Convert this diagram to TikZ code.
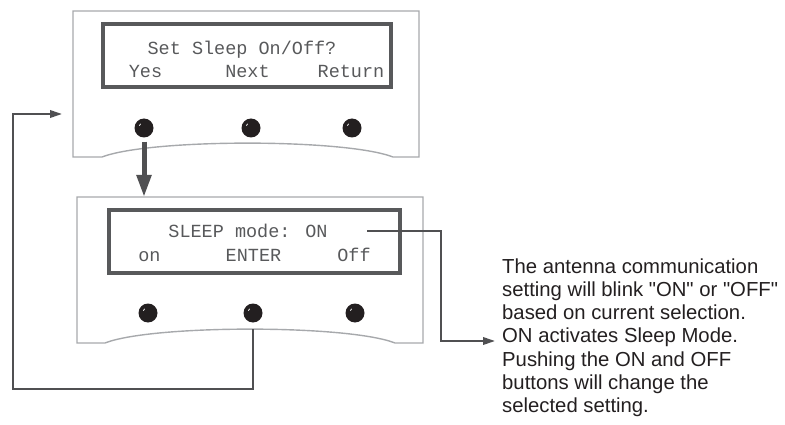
\documentclass[tikz,border=0pt]{standalone}
\usepackage{fontspec}
\setmainfont{Liberation Sans}[Ligatures=TeXOff]
\newfontfamily\lcdfont{Liberation Mono}
\usetikzlibrary{arrows.meta}
\definecolor{panelgray}{HTML}{A7A9AC}
\definecolor{lcdgray}{HTML}{58595B}
\definecolor{conngray}{HTML}{505052}
\definecolor{ink}{HTML}{231F20}
\begin{document}
\begin{tikzpicture}[x=1pt,y=-1pt,
  panel/.style={draw=panelgray, line width=1.4pt},
  lcdbox/.style={draw=lcdgray, line width=3.5pt, minimum height=63pt, inner sep=0},
  lcdtext/.style={font=\lcdfont\fontsize{18.5}{20}\selectfont, text=lcdgray, inner sep=0, anchor=base},
  button/.style={circle, fill=ink, minimum size=19pt, inner sep=0,
    path picture={\draw[white, line width=0.7pt, line cap=round]
      ([shift={(-4.5pt,2.5pt)}]path picture bounding box.center) -- ++(1pt,1.5pt);}},
  conn/.style={draw=conngray, line width=2pt},
  smalltip/.style={-{Triangle[length=12pt,width=7.5pt]}},
  bigarrow/.style={draw=conngray, line width=5pt, -{Triangle[length=22pt,width=14pt]}},
  desc/.style={font=\fontsize{20.3}{23.2}\selectfont, text=ink, align=left, inner sep=0}
]
\useasboundingbox (0,0) rectangle (785,425);

% panel 1
\draw[panel] (102,157) -- (73,157) -- (73,11) -- (419,11) -- (419,157) -- (393,157)
  .. controls (345,138.5) and (150,138.5) .. (102,157);
\node[lcdbox, minimum width=288pt] (d1) at (247,55.5) {};
\node[lcdtext] (t1) at (242,55) {Set Sleep On/Off?};
\node[lcdtext] (t2) at (145.5,77.7) {Yes};
\node[lcdtext] (t3) at (247.5,77.7) {Next};
\node[lcdtext] (t4) at (351,77.7) {Return};
\node[button] (b1) at (144,128) {};
\node[button] (b2) at (251,128) {};
\node[button] (b3) at (352,128) {};

% panel 2
\draw[panel] (105,343) -- (77,343) -- (77,197) -- (423,197) -- (423,343) -- (395,343)
  .. controls (348,324.5) and (152,324.5) .. (105,343);
\coordinate (p2top) at (144,197);
\node[lcdbox, minimum width=291pt] (d2) at (254.5,241.5) {};
\node[lcdtext] (t5) at (248,237.7) {SLEEP mode: ON};
\node[lcdtext] (t6) at (149.5,261.7) {on};
\node[lcdtext] (t7) at (253.5,261.7) {ENTER};
\node[lcdtext] (t8) at (354,261.7) {Off};
\node[button] (b4) at (148,313) {};
\node[button] (b5) at (253,313) {};
\node[button] (b6) at (355,313) {};

% description
\node[desc, anchor=north west] (desc) at (502,258.3) {The antenna communication\\
setting will blink "ON" or "OFF"\\
based on current selection.\\
ON activates Sleep Mode.\\
Pushing the ON and OFF\\
buttons will change the\\
selected setting.};

% connectors
\draw[bigarrow] ([yshift=-4pt]b1.south) -- (p2top);

\coordinate (enterfoot) at (253,329);
\coordinate (loopbl) at (13,389);
\coordinate (fbtip) at (62,114);
\draw[conn, smalltip] (enterfoot) |- (loopbl) |- (fbtip);

\coordinate (onend) at (367,231);
\coordinate (bendpt) at (441,341);
\coordinate (desctip) at (495,341);
\draw[conn, smalltip] (onend) -| (bendpt) -- (desctip);
\end{tikzpicture}
\end{document}
